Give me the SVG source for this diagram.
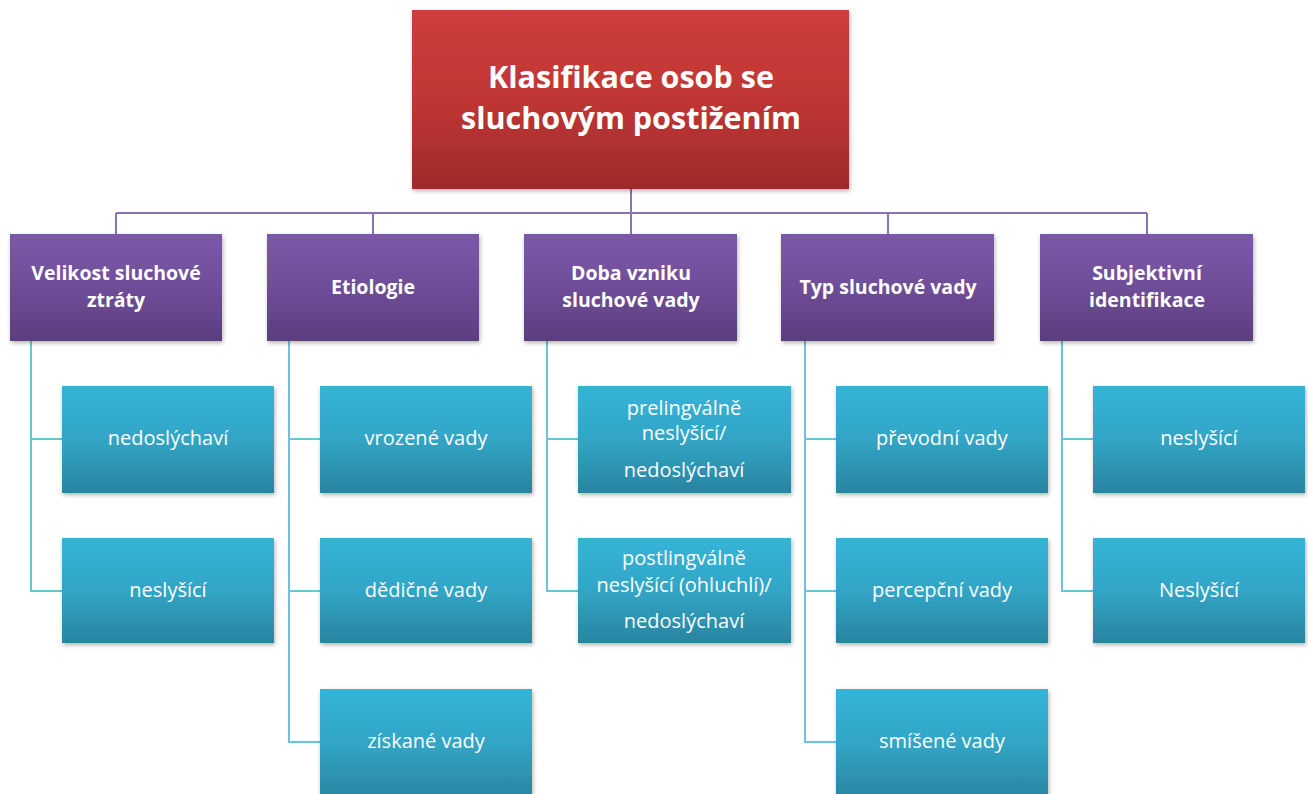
<svg xmlns="http://www.w3.org/2000/svg" width="1308" height="794" viewBox="0 0 1308 794">
<defs>
<linearGradient id="gRed" x1="0" y1="0" x2="0" y2="1"><stop offset="0" stop-color="#cd3d3a"/><stop offset="0.5" stop-color="#c03634"/><stop offset="1" stop-color="#9d2a2a"/></linearGradient>
<linearGradient id="gPur" x1="0" y1="0" x2="0" y2="1"><stop offset="0" stop-color="#7b58a9"/><stop offset="0.5" stop-color="#6f4e98"/><stop offset="1" stop-color="#5b3d7d"/></linearGradient>
<linearGradient id="gCyan" x1="0" y1="0" x2="0" y2="1"><stop offset="0" stop-color="#36b4d8"/><stop offset="0.5" stop-color="#31a5c6"/><stop offset="1" stop-color="#2a84a0"/></linearGradient>
<filter id="sh" x="-10%" y="-10%" width="125%" height="130%"><feDropShadow dx="1" dy="2" stdDeviation="2" flood-color="#000" flood-opacity="0.3"/></filter>
<style>
.root{fill:url(#gRed);filter:url(#sh)}
.l1{fill:url(#gPur);filter:url(#sh)}
.l2{fill:url(#gCyan);filter:url(#sh)}
.t{font-family:"Open Sans","Liberation Sans",sans-serif;fill:#fff;text-anchor:middle}
.tr{font-size:30.5px;font-weight:bold}
.t1{font-size:19.5px;font-weight:bold}
.t2{font-size:20px}
.bus{stroke:#8d72b3;stroke-width:2;fill:none}
.cl{stroke:#6cc3dc;stroke-width:2;fill:none}
</style>
</defs>
<g id="connectors">
<path class="bus" d="M631,189 V213 M116,213 H1147 M116,213 V234 M373,213 V234 M631,213 V234 M888,213 V234 M1147,213 V234"/>
<path class="cl" d="M31,341 V591 H62 M31,439 H62"/>
<path class="cl" d="M289,341 V742 H320 M289,439 H320 M289,591 H320"/>
<path class="cl" d="M547,341 V591 H578 M547,439 H578"/>
<path class="cl" d="M805,341 V742 H836 M805,439 H836 M805,591 H836"/>
<path class="cl" d="M1062,341 V591 H1093 M1062,439 H1093"/>
</g>
<g id="root"><rect class="root" x="412" y="10" width="437" height="179"/>
<text class="t tr" x="631" y="88">Klasifikace osob se</text><text class="t tr" x="631" y="129">sluchovým postižením</text></g>
<g id="n1"><rect class="l1" x="10" y="234" width="212" height="107"/>
<text class="t t1" x="116" y="280">Velikost sluchové</text><text class="t t1" x="116" y="307">ztráty</text></g>
<g id="n2"><rect class="l1" x="267" y="234" width="212" height="107"/>
<text class="t t1" x="373" y="294">Etiologie</text></g>
<g id="n3"><rect class="l1" x="524" y="234" width="213" height="107"/>
<text class="t t1" x="631" y="280">Doba vzniku</text><text class="t t1" x="631" y="307">sluchové vady</text></g>
<g id="n4"><rect class="l1" x="781" y="234" width="213" height="107"/>
<text class="t t1" x="888" y="294">Typ sluchové vady</text></g>
<g id="n5"><rect class="l1" x="1040" y="234" width="213" height="107"/>
<text class="t t1" x="1147" y="280">Subjektivní</text><text class="t t1" x="1147" y="307">identifikace</text></g>
<g id="n1a"><rect class="l2" x="62" y="386" width="212" height="107"/><text class="t t2" x="168" y="445">nedoslýchaví</text></g>
<g id="n1b"><rect class="l2" x="62" y="538" width="212" height="105"/><text class="t t2" x="168" y="597">neslyšící</text></g>
<g id="n2a"><rect class="l2" x="320" y="386" width="212" height="107"/><text class="t t2" x="426" y="445">vrozené vady</text></g>
<g id="n2b"><rect class="l2" x="320" y="538" width="212" height="105"/><text class="t t2" x="426" y="597">dědičné vady</text></g>
<g id="n2c"><rect class="l2" x="320" y="689" width="212" height="110"/><text class="t t2" x="426" y="748">získané vady</text></g>
<g id="n3a"><rect class="l2" x="578" y="386" width="213" height="107"/>
<text class="t t2" x="684" y="415">prelingválně</text><text class="t t2" x="684" y="440">neslyšící/</text><text class="t t2" x="684" y="477">nedoslýchaví</text></g>
<g id="n3b"><rect class="l2" x="578" y="538" width="213" height="105"/>
<text class="t t2" x="684" y="565">postlingválně</text><text class="t t2" x="684" y="592">neslyšící (ohluchlí)/</text><text class="t t2" x="684" y="628">nedoslýchaví</text></g>
<g id="n4a"><rect class="l2" x="836" y="386" width="212" height="107"/><text class="t t2" x="942" y="445">převodní vady</text></g>
<g id="n4b"><rect class="l2" x="836" y="538" width="212" height="105"/><text class="t t2" x="942" y="597">percepční vady</text></g>
<g id="n4c"><rect class="l2" x="836" y="689" width="212" height="110"/><text class="t t2" x="942" y="748">smíšené vady</text></g>
<g id="n5a"><rect class="l2" x="1093" y="386" width="212" height="107"/><text class="t t2" x="1199" y="445">neslyšící</text></g>
<g id="n5b"><rect class="l2" x="1093" y="538" width="212" height="105"/><text class="t t2" x="1199" y="597">Neslyšící</text></g>
</svg>
